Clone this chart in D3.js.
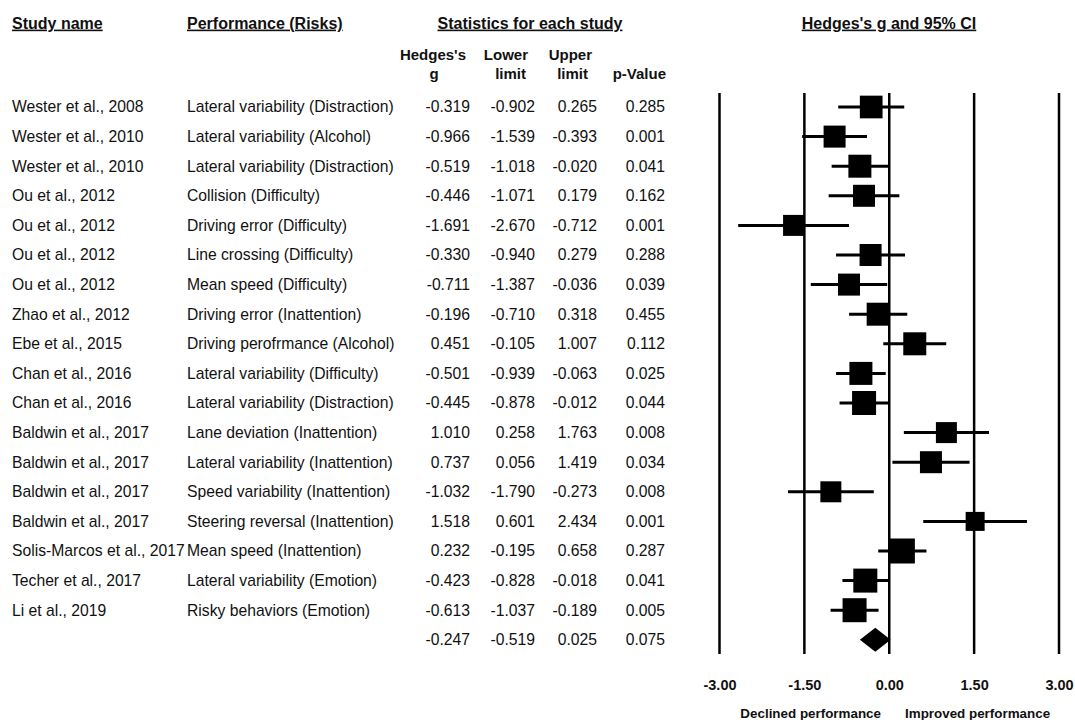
<!DOCTYPE html>
<html>
<head>
<meta charset="utf-8">
<script src="https://d3js.org/d3.v7.min.js"></script>
<style>
  body { margin: 0; background: #fff; }
  svg text { font-family: "Liberation Sans", Arial, sans-serif; fill: #111; }
</style>
</head>
<body>
<div id="chart"></div>
<script>
// study rows
var studies = ["Wester et al., 2008", "Wester et al., 2010", "Wester et al., 2010",
  "Ou et al., 2012", "Ou et al., 2012", "Ou et al., 2012", "Ou et al., 2012",
  "Zhao et al., 2012", "Ebe et al., 2015", "Chan et al., 2016", "Chan et al., 2016",
  "Baldwin et al., 2017", "Baldwin et al., 2017", "Baldwin et al., 2017", "Baldwin et al., 2017",
  "Solis-Marcos et al., 2017", "Techer et al., 2017", "Li et al., 2019"];
var outcomes = ["Lateral variability (Distraction)", "Lateral variability (Alcohol)",
  "Lateral variability (Distraction)", "Collision (Difficulty)", "Driving error (Difficulty)",
  "Line crossing (Difficulty)", "Mean speed (Difficulty)", "Driving error (Inattention)",
  "Driving perofrmance (Alcohol)", "Lateral variability (Difficulty)",
  "Lateral variability (Distraction)", "Lane deviation (Inattention)",
  "Lateral variability (Inattention)", "Speed variability (Inattention)",
  "Steering reversal (Inattention)", "Mean speed (Inattention)",
  "Lateral variability (Emotion)", "Risky behaviors (Emotion)"];
var hedgesG = [-0.319, -0.966, -0.519, -0.446, -1.691, -0.330, -0.711, -0.196, 0.451,
  -0.501, -0.445, 1.010, 0.737, -1.032, 1.518, 0.232, -0.423, -0.613];
var lowerLimit = [-0.902, -1.539, -1.018, -1.071, -2.670, -0.940, -1.387, -0.710, -0.105,
  -0.939, -0.878, 0.258, 0.056, -1.790, 0.601, -0.195, -0.828, -1.037];
var upperLimit = [0.265, -0.393, -0.020, 0.179, -0.712, 0.279, -0.036, 0.318, 1.007,
  -0.063, -0.012, 1.763, 1.419, -0.273, 2.434, 0.658, -0.018, -0.189];
var pValue = [0.285, 0.001, 0.041, 0.162, 0.001, 0.288, 0.039, 0.455, 0.112,
  0.025, 0.044, 0.008, 0.034, 0.008, 0.001, 0.287, 0.041, 0.005];
var weights = [5.67, 5.33, 5.82, 5.33, 4.85, 5.33, 5.33, 5.82, 5.82,
  5.82, 6.34, 4.85, 5.33, 4.85, 3.97, 6.88, 6.34, 6.34];
var summary = { g: -0.247, lower: -0.519, upper: 0.025, p: 0.075 };
var axisTicks = [-3, -1.5, 0, 1.5, 3];

var width = 1075, height = 720;
var rowTop = 107, rowStep = 29.6;

var svg = d3.select("#chart").append("svg")
  .attr("width", width).attr("height", height);

var x = d3.scaleLinear().domain([-3, 3]).range([719.5, 1059]);
var y = function (i) { return rowTop + i * rowStep; };
var size = d3.scaleSqrt().domain([0, 6.88]).range([0, 25]);
// plain hyphen for negatives, like the original
var locale = d3.formatLocale({ decimal: ".", thousands: ",", grouping: [3], currency: ["", ""], minus: "-" });
var fmt = locale.format(".3f");

// headers
var head = svg.append("g").attr("font-weight", "bold").attr("font-size", "16px");
[["Study name", 12, "start"], ["Performance (Risks)", 187, "start"],
 ["Statistics for each study", 530, "middle"], ["Hedges's g and 95% CI", 889, "middle"]]
  .forEach(function (h) {
    head.append("text").attr("x", h[1]).attr("y", 23).attr("dy", "0.35em")
      .attr("text-anchor", h[2]).style("text-decoration", "underline").text(h[0]);
  });

var sub = svg.append("g").attr("font-weight", "bold").attr("font-size", "15px");
[["Hedges's", 466, 55, "end"], ["g", 434, 74, "middle"],
 ["Lower", 528, 55, "end"], ["limit", 526, 74, "end"],
 ["Upper", 592, 55, "end"], ["limit", 588, 74, "end"],
 ["p-Value", 666, 74, "end"]].forEach(function (h) {
  sub.append("text").attr("x", h[1]).attr("y", h[2]).attr("dy", "0.35em")
    .attr("text-anchor", h[3]).text(h[0]);
});

// table
var rows = svg.append("g").attr("font-size", "15.7px");
var cols = [
  { vals: studies, x: 12, anchor: "start" },
  { vals: outcomes, x: 187, anchor: "start" },
  { vals: hedgesG.map(fmt).concat(fmt(summary.g)), x: 470, anchor: "end" },
  { vals: lowerLimit.map(fmt).concat(fmt(summary.lower)), x: 535, anchor: "end" },
  { vals: upperLimit.map(fmt).concat(fmt(summary.upper)), x: 597, anchor: "end" },
  { vals: pValue.map(fmt).concat(fmt(summary.p)), x: 665, anchor: "end" }
];
cols.forEach(function (c) {
  rows.selectAll(null).data(c.vals).enter().append("text")
    .attr("x", c.x).attr("y", function (d, i) { return y(i); })
    .attr("dy", "0.35em").attr("text-anchor", c.anchor)
    .text(function (d) { return d; });
});

// reference lines
svg.append("g").selectAll("line").data(axisTicks).enter().append("line")
  .attr("x1", x).attr("x2", x).attr("y1", 93).attr("y2", 654)
  .attr("stroke", "#000").attr("stroke-width", 2.5);

// confidence intervals
var plot = svg.append("g");
plot.selectAll("line.ci").data(hedgesG).enter().append("line")
  .attr("class", "ci")
  .attr("x1", function (d, i) { return x(lowerLimit[i]); })
  .attr("x2", function (d, i) { return x(upperLimit[i]); })
  .attr("y1", function (d, i) { return y(i); })
  .attr("y2", function (d, i) { return y(i); })
  .attr("stroke", "#000").attr("stroke-width", 3);

plot.selectAll("rect").data(hedgesG).enter().append("rect")
  .attr("x", function (d, i) { return x(d) - size(weights[i]) / 2; })
  .attr("y", function (d, i) { return y(i) - size(weights[i]) / 2; })
  .attr("width", function (d, i) { return size(weights[i]); })
  .attr("height", function (d, i) { return size(weights[i]); })
  .attr("fill", "#000");

// summary diamond
var sy = y(studies.length);
plot.append("path")
  .attr("d", "M" + x(summary.lower) + "," + sy + "L" + x(summary.g) + "," + (sy - 12) +
    "L" + x(summary.upper) + "," + sy + "L" + x(summary.g) + "," + (sy + 12) + "Z")
  .attr("fill", "#000");

// axis labels
var axis = svg.append("g")
  .attr("transform", "translate(0,685)")
  .call(d3.axisBottom(x).tickValues(axisTicks).tickFormat(locale.format(".2f")).tickSize(0).tickPadding(0));
axis.select(".domain").remove();
axis.selectAll("text")
  .attr("y", 0).attr("dy", "0.35em")
  .attr("font-family", "Liberation Sans, Arial, sans-serif")
  .attr("font-size", "14.5px").attr("font-weight", "bold").attr("fill", "#111");

svg.append("text").attr("x", 881).attr("y", 713).attr("dy", "0.35em")
  .attr("text-anchor", "end").attr("font-size", "13.4px").attr("font-weight", "bold")
  .text("Declined performance");
svg.append("text").attr("x", 905).attr("y", 713).attr("dy", "0.35em")
  .attr("text-anchor", "start").attr("font-size", "13.4px").attr("font-weight", "bold")
  .text("Improved performance");
</script>
</body>
</html>
